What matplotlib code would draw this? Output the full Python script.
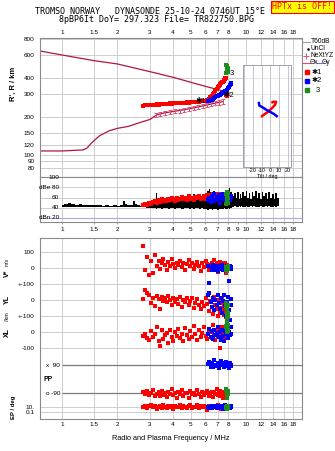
import numpy as np
import matplotlib
matplotlib.use('Agg')
import matplotlib.pyplot as plt
from matplotlib.lines import Line2D
from matplotlib.ticker import NullLocator

W, H = 335, 451
plt.rcParams['font.family'] = ['Liberation Sans', 'DejaVu Sans']
plt.rcParams['axes.linewidth'] = 0.8

# ---------------- axis ticks / labels ----------------
freq_ticks_top = [1, 1.5, 2, 3, 4, 5, 6, 7, 8, 10, 12, 14, 16, 18]
freq_labels_top = ['1', '1.5', '2', '3', '4', '5', '6', '7', '8', '10', '12', '14', '16', '18']
freq_ticks_mid = [1, 1.5, 2, 3, 4, 5, 6, 7, 8, 9, 10, 12, 14, 16, 18]
freq_labels_mid = ['1', '1.5', '2', '3', '4', '5', '6', '7', '8', '9', '10', '12', '14', '16', '18']
grid_freqs = [1, 1.5, 2, 3, 4, 5, 6, 7, 8, 10, 12, 14, 16, 18]
range_ticks = [80, 90, 100, 120, 150, 200, 300, 400, 600, 800]
db_ticks = [100, 80, 60, 40, 20]
db_labels = ['100', 'dBe 80', '60', '40', 'dBn 20']
tilt_ticks = [-20, -10, 0, 10, 20]
tilt_grid = [-30, -20, -10, 0, 10, 20]

# ---------------- model profile curves (R' panel) ----------------
upper_curve_f = [0.76, 1.0, 1.5, 2.0, 3.0, 4.0, 5.0, 6.1, 7.0, 7.7]
upper_curve_r = [649, 604, 545, 514, 448, 405, 370, 342, 325, 313]
lower_curve_f = [0.76, 1.0, 1.3, 1.36, 1.45, 1.6, 1.8, 2.0, 2.3, 2.65, 3.0, 3.26, 3.6, 4.0, 4.5, 5.2, 6.0, 6.8, 7.5]
lower_curve_r = [108, 108, 110, 113, 125, 142, 155, 162, 168, 180, 190, 206, 214, 219, 225, 234, 245, 255, 262]
nextyz_f = [3.22, 3.4, 3.6, 3.85, 4.1, 4.35, 4.6, 4.9, 5.2, 5.5, 5.8, 6.1, 6.45, 6.8, 7.1, 7.45]
nextyz_r = [207, 210, 214, 218, 220, 223, 226, 230, 234, 238, 242, 246, 250, 255, 258, 262]
nextyz_err = [7, 8, 8, 8, 8, 8, 8, 8, 9, 9, 9, 9, 9, 10, 10, 10]

# ---------------- echoes: class *1 (red) ----------------
red_f = [2.75, 2.82, 2.90, 2.98, 3.05, 3.12, 3.20, 3.27, 3.34, 3.41,
         3.48, 3.55, 3.62, 3.70, 3.78, 3.86, 3.94, 4.02, 4.10, 4.19,
         4.28, 4.37, 4.46, 4.56, 4.66, 4.76, 4.86, 4.97, 5.08, 5.19,
         5.30, 5.42, 5.54, 5.66, 5.78, 5.90, 6.02, 6.14, 6.26, 6.38,
         6.50, 6.60, 6.70, 6.80, 6.90, 7.00, 7.08, 7.16, 7.24, 7.32,
         7.40, 7.47, 7.54, 7.60, 7.66, 7.71, 7.76, 7.80, 7.84, 7.88]
red_rng = [243, 246, 245, 247, 246, 248, 247, 249, 248, 250,
           249, 251, 250, 252, 251, 253, 252, 254, 253, 255,
           254, 256, 255, 257, 256, 258, 257, 259, 258, 260,
           259, 261, 262, 263, 264, 266, 266, 270, 276, 283,
           291, 299, 308, 318, 328, 338, 345, 351, 357, 363,
           369, 375, 381, 387, 393, 398, 403, 296, 305, 290]
red_amp = [45, 47, 46, 49, 48, 51, 53, 50, 55, 52,
           57, 54, 56, 53, 58, 55, 59, 57, 54, 60,
           56, 58, 61, 57, 59, 55, 62, 58, 60, 56,
           61, 59, 63, 57, 60, 62, 58, 64, 61, 65,
           62, 67, 60, 64, 63, 66, 59, 65, 62, 67,
           61, 64, 60, 66, 63, 58, 65, 62, 60, 64]
red_v = [141, -13, 72, -44, 46, -30, 82, 10, 45, -5,
         30, 60, 20, -10, 40, 15, 55, 25, 0, 35,
         18, 45, 5, 30, -15, 25, 50, 10, 35, -5,
         20, 40, 15, -20, 30, 5, 45, 25, -10, 20,
         35, 0, 50, 15, 30, -25, 10, 40, 20, -5,
         25, 35, 0, 15, -15, 30, 10, -30, 20, 5]
red_yl = [6, 63, 45, 32, -20, 15, -40, 25, 5, -59,
          20, -5, 10, -15, 25, 0, -30, 15, -10, 5,
          -25, 20, -45, 0, -15, 10, -35, -5, 15, -50,
          -20, 5, -30, -60, -10, -40, 10, -25, -70, -5,
          -45, -90, 20, -35, -60, -100, 0, -20, -80, -50,
          10, -65, -30, -95, -10, -75, -40, -106, -20, -55]
red_xl = [-23, -10, -40, -50, 5, -30, -15, 30, -60, -89,
          10, -45, -20, -5, -70, 15, -35, -55, 0, -25,
          20, -40, -10, -60, 25, -20, -45, 5, -30, 40,
          -15, -50, 10, -35, -5, 30, -25, -45, 15, 0,
          -40, 44, -20, -51, 10, -30, 25, -10, -99, -45,
          35, -5, -25, 20, -40, 5, -36, -15, 30, -20]
red_pp = [-85, -95, -78, -100, -88, -70, -110, -92, -82, -105,
          -75, -98, -90, -115, -80, -95, -65, -102, -88, -120,
          -84, -93, -72, -108, -90, -86, -118, -77, -96, -89,
          -104, -68, -94, -112, -81, -99, -87, -74, -106, -91,
          -83, -116, -79, -97, -62, -101, -88, -110, -76, -95,
          -85, -122, -90, -80, -103, -93, -70, -98, -86, -90]
red_ep = [8, 20, 4, 12, 30, 6, 15, 2, 10, 25,
          5, 40, 9, 3, 18, 7, 12, 1.5, 22, 6,
          10, 35, 4, 14, 8, 2.5, 16, 28, 5, 11,
          7, 45, 3, 13, 9, 20, 6, 1, 17, 10,
          4, 24, 8, 12, 3, 30, 6, 15, 9, 2,
          19, 11, 5, 26, 7, 14, 4, 10, 22, 8]

# ---------------- echoes: class *2 (blue) ----------------
blue_f = [6.20, 6.30, 6.40, 6.50, 6.60, 6.70, 6.80, 6.90, 7.00, 7.10,
          7.20, 7.30, 7.40, 7.50, 7.60, 7.70, 7.80, 7.90, 8.00, 8.10,
          8.20, 8.25, 8.30]
blue_rng = [263, 265, 268, 271, 275, 279, 283, 287, 291, 294,
            297, 300, 303, 306, 310, 314, 319, 325, 332, 340,
            350, 360, 368]
blue_amp = [55, 60, 52, 63, 58, 66, 54, 61, 57, 64,
            50, 62, 59, 67, 56, 60, 53, 65, 58, 62,
            56, 63, 60]
blue_v = [10, -97, 5, -15, 20, 0, -10, 15, -20, 5,
          10, -5, 18, -12, 0, 8, -18, 12, -3, -80,
          15, -8, 5]
blue_yl = [30, 42, -10, -42, 15, -63, 0, -30, 35, -20,
           -55, 10, -80, -5, 32, -40, -100, -15, 20, -63,
           -127, -30, 5]
blue_xl = [-10, 20, -30, 5, -45, 15, -20, -5, 30, -35,
           0, -50, 10, -25, -60, 5, -15, 25, -40, 0,
           -20, 35, -10]
blue_pp = [95, 110, 80, 100, 75, 120, 90, 85, 105, 70,
           95, 115, 88, 100, 78, 92, 110, 84, 98, 72,
           105, 90, 86]
blue_ep = [10, 5, 18, 3, 12, 25, 7, 15, 4, 9,
           20, 6, 11, 2, 14, 30, 8, 5, 16, 10,
           3, 12, 7]

# ---------------- echoes: class 3 (green) ----------------
green_f = [7.78, 7.80, 7.82, 7.84, 7.86, 7.88, 7.90, 7.92, 7.94, 7.96]
green_rng = [440, 505, 452, 495, 463, 485, 470, 478, 447, 458]
green_amp = [48, 66, 52, 70, 55, 62, 58, 68, 50, 60]
green_v = [5, -10, 0, -20, 8, -5, -15, 3, -8, 10]
green_yl = [-20, -45, -70, -95, -120, -140, -60, -30, -110, -85]
green_xl = [40, 30, 20, 10, 2, 35, 25, 15, 5, 44]
green_pp = [-60, -70, -80, -90, -100, -110, -120, -75, -95, -85]
green_ep = [3, 8, 15, 5, 20, 2, 10, 6, 12, 4]

# ---------------- noise amplitude (black) ----------------
noise_f_a = [1.00, 1.05, 1.10, 1.15, 1.20, 1.26, 1.32, 1.38, 1.45, 1.52, 1.60, 1.68, 1.76,
             1.85, 1.94, 2.04, 2.10, 2.16, 2.22, 2.30, 2.38, 2.45, 2.52, 2.60, 2.68, 2.75]
noise_hi_a = [46, 47, 49, 47, 46, 47, 46, 45, 46, 45, 45, 44, 45,
              44, 45, 44, 45, 54, 47, 45, 46, 54, 47, 45, 44, 45]
noise_lo_a = [42, 41, 42, 41, 42, 41, 42, 41, 42, 41, 42, 41, 41,
              42, 41, 41, 42, 41, 41, 42, 41, 41, 42, 41, 41, 42]
noise_f_b = [2.80, 2.90, 3.00, 3.10, 3.20, 3.26, 3.32, 3.40, 3.50, 3.60,
             3.70, 3.80, 3.90, 4.00, 4.10, 4.20, 4.35, 4.50, 4.65, 4.80,
             4.95, 5.10, 5.20, 5.30, 5.45, 5.60, 5.75, 5.90, 6.05, 6.20,
             6.30, 6.40, 6.55, 6.70, 6.85, 7.00, 7.15, 7.30, 7.45, 7.60,
             7.75, 7.90, 8.05, 8.15, 8.25, 8.40]
noise_hi_b = [46, 47, 45, 50, 58, 69, 60, 52, 55, 50,
              56, 52, 57, 60, 55, 58, 54, 57, 53, 58,
              55, 60, 66, 58, 56, 62, 58, 63, 66, 72,
              76, 70, 68, 72, 66, 70, 64, 68, 62, 70,
              66, 72, 68, 78, 70, 66]
noise_lo_b = [41, 40, 40, 39, 40, 38, 39, 40, 38, 39,
              40, 38, 39, 40, 37, 39, 40, 38, 39, 40,
              38, 39, 37, 39, 40, 38, 39, 37, 38, 36,
              37, 38, 36, 37, 38, 36, 37, 38, 37, 39,
              38, 37, 39, 38, 40, 41]
noise_f_c = [8.55, 8.70, 8.85, 9.00, 9.15, 9.30, 9.45, 9.60, 9.80, 10.0,
             10.2, 10.4, 10.6, 10.8, 11.0, 11.25, 11.5, 11.75, 12.0, 12.25,
             12.5, 12.75, 13.0, 13.3, 13.6, 13.9, 14.2, 14.5, 14.8, 15.1]
noise_hi_c = [62, 68, 60, 70, 58, 66, 60, 70, 62, 72,
              60, 68, 58, 70, 62, 72, 60, 68, 58, 70,
              62, 68, 58, 70, 60, 66, 58, 68, 60, 66]
noise_lo_c = [42, 43, 42, 41, 43, 42, 43, 41, 42, 43,
              42, 41, 43, 42, 43, 42, 41, 42, 43, 42,
              41, 43, 42, 43, 42, 41, 43, 42, 43, 42]

# ---------------- tilt inset ----------------
tilt_red_deg = [-10.7, -6.9, -3.0, 0.8, 3.5, 5.7, 6.6, 3.5, 1.2]
tilt_red_rng = [199, 208, 217, 229, 239, 249, 261, 261, 256]
tilt_blue_deg = [-13.3, -12.6, -8.7, -4.1, 0.8, 4.6, 8.5]
tilt_blue_rng = [261, 244, 236, 225, 216, 209, 199]

# ---------------- styling / layout ----------------
GRID = '#cdcdcd'
DARK = '#7a7a7a'
SPINE = '#8a8a8a'
RED, BLUE, GREEN = '#ff0000', '#0000ff', '#1e8c1e'
CRIMSON = '#b0163c'
PINK = '#e0507a'
FMIN, FMAX = 0.76, 20.05
FS = 4.6
MS = 6.5

# lower panel row layout (pixel rows) and scale (px per unit)
V0, YL0, XL0, PP0, EP10 = 268.0, 300.0, 332.0, 379.15, 406.7
S = 0.157
EP_DEC = 2.8

fig = plt.figure(figsize=(W / 100, H / 100), dpi=100)
fig.patch.set_facecolor('white')


def rect(l, t, r, b):
    return [l / W, 1 - b / H, (r - l) / W, (b - t) / H]


def fx(px):
    return px / W


def fy(py):
    return 1 - py / H


def base_axes(r):
    ax = fig.add_axes(r)
    ax.set_xscale('log')
    ax.set_xlim(FMIN, FMAX)
    for s in ax.spines.values():
        s.set_color(SPINE)
        s.set_linewidth(0.8)
    for f in grid_freqs:
        ax.axvline(f, color=GRID, lw=0.7, zorder=0)
    return ax


def no_minor(ax):
    ax.xaxis.set_minor_locator(NullLocator())
    ax.yaxis.set_minor_locator(NullLocator())


# ===== R' panel =====
ax_r = base_axes(rect(40, 38, 302, 177))
ax_r.set_yscale('log')
ax_r.set_ylim(67.7, 819)
no_minor(ax_r)
for r in range_ticks:
    ax_r.axhline(r, color=GRID, lw=0.7, zorder=0)
ax_r.set_yticks(range_ticks)
ax_r.set_yticklabels([str(v) for v in range_ticks])
ax_r.xaxis.tick_top()
ax_r.set_xticks(freq_ticks_top)
ax_r.set_xticklabels(freq_labels_top)
no_minor(ax_r)
ax_r.tick_params(axis='both', length=0, labelsize=FS)
ax_r.tick_params(axis='y', pad=4)
ax_r.tick_params(axis='x', pad=1.9)

ax_r.plot(upper_curve_f, upper_curve_r, color=CRIMSON, lw=0.9, zorder=2)
ax_r.plot(lower_curve_f, lower_curve_r, color=CRIMSON, lw=0.9, zorder=2)
ax_r.errorbar(nextyz_f, nextyz_r, yerr=nextyz_err, fmt='none', ecolor=PINK,
              elinewidth=0.7, capsize=1.2, capthick=0.7, zorder=2)
ax_r.scatter(red_f, red_rng, s=8, marker='s', c=RED, linewidths=0, zorder=3)
ax_r.scatter(blue_f, blue_rng, s=7, marker='s', c=BLUE, linewidths=0, zorder=4)
ax_r.scatter(green_f, green_rng, s=7, marker='s', c=GREEN, linewidths=0, zorder=4)
ax_r.text(5.27, 261, '✱1', fontsize=5.5, ha='left', va='center', zorder=5)
ax_r.text(7.5, 293, '✱2', fontsize=5.5, ha='left', va='center', zorder=5)
ax_r.text(8.08, 435, '3', fontsize=5.5, ha='left', va='center', zorder=5)

# ===== dB panel =====
ax_d = base_axes(rect(40, 177, 302, 221.7))
ax_d.set_ylim(12.1, 100.6)
for v in [80, 60, 40]:
    ax_d.axhline(v, color=GRID, lw=0.7, zorder=0)
ax_d.axhline(20, color='#a8a8e6', lw=0.8, zorder=0)
ax_d.set_yticks([])
ax_d.set_xticks(freq_ticks_mid)
ax_d.set_xticklabels(freq_labels_mid)
no_minor(ax_d)
ax_d.tick_params(axis='x', length=1.5, width=0.6, color=SPINE, pad=2.6, labelsize=FS)
ytr = ax_d.get_yaxis_transform()
for v, lab in zip(db_ticks, db_labels):
    ax_d.text((59 - 40) / 262, v, lab, transform=ytr, ha='right', va='center',
              fontsize=FS, zorder=6)
nf = noise_f_a + noise_f_b + noise_f_c
nhi = noise_hi_a + noise_hi_b + noise_hi_c
nlo = noise_lo_a + noise_lo_b + noise_lo_c
ax_d.fill_between(nf, nlo, nhi, step='mid', color='black', lw=0, zorder=2)
ax_d.scatter(red_f, red_amp, s=MS, marker='s', c=RED, linewidths=0, zorder=3)
ax_d.scatter(blue_f, blue_amp, s=MS, marker='s', c=BLUE, linewidths=0, zorder=4)
ax_d.scatter(green_f, green_amp, s=MS, marker='s', c=GREEN, linewidths=0, zorder=4)

# ===== lower panel (V*, YL, XL, PP, EP) =====
ax_l = base_axes(rect(40, 238, 302, 419.3))
ax_l.set_ylim(419.3, 238)
no_minor(ax_l)
light_rows = [V0 - 100 * S, V0, V0 + 100 * S, YL0, YL0 + 100 * S, XL0, XL0 + 100 * S,
              EP10, EP10 + 2 * EP_DEC]
light_labels = ['100', '0', '+-100', '0', '+-100', '0', '-100', '10.', '0.1']
for y in light_rows:
    ax_l.axhline(y, color=GRID, lw=0.7, zorder=0)
ax_l.hlines([PP0 - 90 * S, PP0 + 90 * S], 1.0, FMAX, color=DARK, lw=0.9, zorder=1)
ax_l.set_yticks(light_rows)
ax_l.set_yticklabels(light_labels)
ax_l.set_xticks(freq_ticks_top)
ax_l.set_xticklabels(freq_labels_top)
no_minor(ax_l)
ax_l.tick_params(axis='both', length=0, labelsize=FS)
ax_l.tick_params(axis='y', pad=4)
ax_l.tick_params(axis='x', pad=1.7)
ltr = ax_l.get_yaxis_transform()
ax_l.text((46.5 - 40) / 262, PP0 - 90 * S, 'x  90', transform=ltr, ha='left',
          va='center', fontsize=FS)
ax_l.text((46 - 40) / 262, PP0 + 90 * S, 'o -90', transform=ltr, ha='left',
          va='center', fontsize=FS)
ax_l.text((43 - 40) / 262, PP0, 'PP', transform=ltr, ha='left', va='center',
          fontsize=FS + 0.3, weight='bold')


def lower_rows(f, v, yl, xl, pp, ep, color, z):
    f = np.asarray(f, float)
    ys = [V0 - np.asarray(v, float) * S,
          YL0 - np.asarray(yl, float) * S,
          XL0 - np.asarray(xl, float) * S,
          PP0 - np.asarray(pp, float) * S,
          EP10 - np.log10(np.asarray(ep, float) / 10.0) * EP_DEC]
    for y in ys:
        ax_l.scatter(f, y, s=MS, marker='s', c=color, linewidths=0, zorder=z)


lower_rows(red_f, red_v, red_yl, red_xl, red_pp, red_ep, RED, 3)
lower_rows(blue_f, blue_v, blue_yl, blue_xl, blue_pp, blue_ep, BLUE, 4)
lower_rows(green_f, green_v, green_yl, green_xl, green_pp, green_ep, GREEN, 4)

# ===== tilt inset =====
ax_t = fig.add_axes(rect(242.7, 65, 291, 167.3))
ax_t.set_facecolor('white')
ax_t.set_xlim(-31.7, 23.8)
ax_t.set_yscale('log')
ax_t.set_ylim(80.6, 505)
for s in ax_t.spines.values():
    s.set_color('#a0a0b0')
    s.set_linewidth(0.7)
for r in [90, 100, 120, 150, 200, 300, 400]:
    ax_t.axhline(r, color='#e2e2e2', lw=0.6, zorder=0)
for d in tilt_grid:
    ax_t.axvline(d, color='#c4c4d4', lw=0.7, zorder=0)
ax_t.set_yticks([])
ax_t.yaxis.set_minor_locator(NullLocator())
ax_t.set_xticks(tilt_ticks)
ax_t.set_xticklabels([str(t) for t in tilt_ticks])
ax_t.tick_params(axis='x', length=0, pad=0.6, labelsize=3.9)
ax_t.set_xlabel('Tilt / deg', fontsize=3.9, labelpad=0.3)
ax_t.plot(tilt_red_deg, tilt_red_rng, color=RED, lw=1.8, solid_capstyle='butt', zorder=3)
ax_t.plot(tilt_blue_deg, tilt_blue_rng, color=BLUE, lw=1.8, solid_capstyle='butt', zorder=3)

# ===== titles & labels =====
MONO = 'DejaVu Sans Mono'
fig.text(fx(150), fy(12), 'TROMSO NORWAY   DYNASONDE 25-10-24 0746UT 15°E',
         family=MONO, fontsize=6.0, ha='center', va='center')
fig.text(fx(156.7), fy(19.8), '8pBP6It DoY= 297.323 File= TR822750.BPG',
         family=MONO, fontsize=6.0, ha='center', va='center')
fig.text(fx(302.5), fy(6.8), 'HPTx is OFF!', family=MONO, fontsize=6.0, color='red',
         ha='center', va='center',
         bbox=dict(boxstyle='square,pad=0.18', fc='#ffff00', ec='red', lw=0.8))
fig.text(fx(13.4), fy(84), "R', R / km", rotation=90, ha='center', va='center',
         fontsize=5.4, weight='bold')
fig.text(fx(7.6), fy(273.5), 'V*', rotation=90, ha='center', va='center',
         fontsize=5.0, weight='bold')
fig.text(fx(7.6), fy(262.5), 'm/s', rotation=90, ha='center', va='center', fontsize=3.6)
fig.text(fx(7.6), fy(299), 'YL', rotation=90, ha='center', va='center',
         fontsize=5.0, weight='bold')
fig.text(fx(7.6), fy(317), '/km', rotation=90, ha='center', va='center', fontsize=4.0)
fig.text(fx(7.6), fy(332.5), 'XL', rotation=90, ha='center', va='center',
         fontsize=5.0, weight='bold')
fig.text(fx(14), fy(407), 'EP / deg', rotation=90, ha='center', va='center',
         fontsize=4.3, weight='bold')
fig.text(fx(170.5), fy(439), 'Radio and Plasma Frequency / MHz', ha='center',
         va='center', fontsize=5.3)

# ===== legend (right side) =====
LF = 4.8
fig.add_artist(Line2D([fx(302), fx(309.5)], [fy(41.5)] * 2, color='#a0a0a0', lw=0.8))
fig.text(fx(310.5), fy(41.5), 'T60dB', fontsize=LF, va='center', ha='left')
fig.add_artist(Line2D([fx(307.5)], [fy(48.5)], marker='s', ms=0.8, color='black', ls='none'))
fig.text(fx(310.5), fy(48.5), 'UnCl', fontsize=LF, va='center', ha='left')
fig.add_artist(Line2D([fx(305.5)], [fy(55.5)], marker='+', ms=4, mew=0.7, color=PINK, ls='none'))
fig.text(fx(310.5), fy(55.5), 'NeXtYZ', fontsize=LF, va='center', ha='left')
fig.add_artist(Line2D([fx(302.3), fx(309.5)], [fy(63)] * 2, color=PINK, lw=0.8))
fig.text(fx(309.8), fy(63), 'Θx', fontsize=LF, va='center', ha='left')
fig.add_artist(Line2D([fx(316.5), fx(321.5)], [fy(63)] * 2, color='#7070e0', lw=0.8))
fig.text(fx(321.8), fy(63), 'Θy', fontsize=LF, va='center', ha='left')
for yy, col, lab, tx in [(72, RED, '✱1', 311.5), (80.5, BLUE, '✱2', 311.5), (90, GREEN, '3', 315.5)]:
    fig.add_artist(Line2D([fx(306.5)], [fy(yy)], marker='s', ms=2.3, color=col, ls='none'))
    fig.text(fx(tx), fy(yy), lab, fontsize=5.3, va='center', ha='left')

fig.savefig('out.png', dpi=100, facecolor='white')
